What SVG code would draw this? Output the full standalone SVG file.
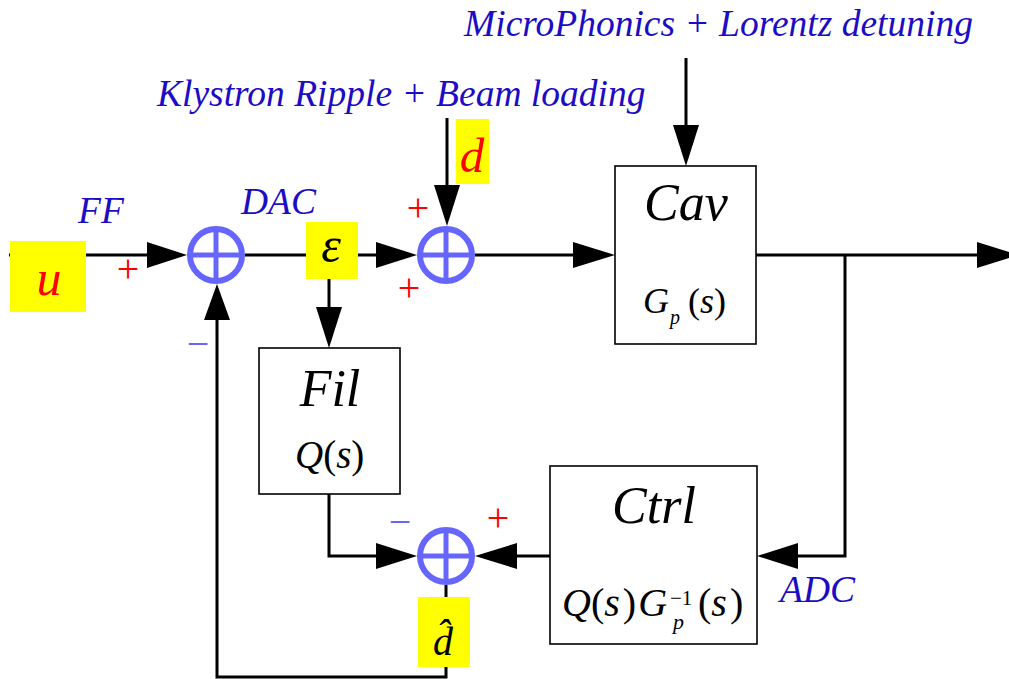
<svg xmlns="http://www.w3.org/2000/svg" width="1009" height="679" viewBox="0 0 1009 679">
<style>
.ln{fill:none;stroke:#000;stroke-width:3;stroke-linejoin:miter}
.ah{fill:#000;stroke:none}
.box{fill:#fff;stroke:#000;stroke-width:1.6}
.hl{fill:#ffff00;stroke:none}
.sumc{fill:#fff;stroke:#6666ff;stroke-width:6}
.sumx{stroke:#6666ff;stroke-width:5}
.lbl{font-family:"Liberation Serif","Times New Roman",serif;font-style:italic;font-size:37.5px;fill:#1c0cc4}
.big{font-family:"Liberation Serif","Times New Roman",serif;font-style:italic;font-size:52px;fill:#000;text-anchor:middle}
.math{font-family:"Liberation Serif","Times New Roman",serif;fill:#000}
.it{font-style:italic}
.sgn{font-family:"Liberation Serif","Times New Roman",serif;font-size:40px;text-anchor:middle}
.red{fill:#ff0000}
.blu{fill:#6666ff}
</style>
<rect width="1009" height="679" fill="#fff"/>

<g id="connectors">
  <line class="ln" x1="9" y1="255" x2="150" y2="255"/>
  <polygon class="ah" points="147,242 187,255 147,268"/>
  <line class="ln" x1="245" y1="255" x2="379" y2="255"/>
  <polygon class="ah" points="376,242 417,255 376,268"/>
  <line class="ln" x1="329" y1="279" x2="329" y2="310"/>
  <polygon class="ah" points="316,307 329,348 342,307"/>
  <line class="ln" x1="475" y1="255" x2="576" y2="255"/>
  <polygon class="ah" points="573,242 615,255 573,268"/>
  <line class="ln" x1="756" y1="255" x2="980" y2="255"/>
  <polygon class="ah" points="977,242 1019,255 977,268"/>
  <polyline class="ln" points="845,255 845,556 795,556"/>
  <polygon class="ah" points="798,543 757,556 798,569"/>
  <line class="ln" x1="686" y1="58" x2="686" y2="128"/>
  <polygon class="ah" points="673,125 686,166 699,125"/>
  <line class="ln" x1="447" y1="118" x2="447" y2="188"/>
  <polygon class="ah" points="434,185 447,226 460,185"/>
  <polyline class="ln" points="329,494 329,556 379,556"/>
  <polygon class="ah" points="376,543 417,556 376,569"/>
  <line class="ln" x1="550" y1="556" x2="514" y2="556"/>
  <polygon class="ah" points="517,543 475,556 517,569"/>
  <polyline class="ln" points="446,585 446,677 217,677 217,317"/>
  <polygon class="ah" points="204,320 217,284 230,320"/>
</g>

<g id="sum1">
  <circle class="sumc" cx="216" cy="255" r="26"/>
  <line class="sumx" x1="188" y1="255" x2="244" y2="255"/>
  <line class="sumx" x1="216" y1="227" x2="216" y2="283"/>
</g>
<g id="sum2">
  <circle class="sumc" cx="446" cy="255" r="26"/>
  <line class="sumx" x1="418" y1="255" x2="474" y2="255"/>
  <line class="sumx" x1="446" y1="227" x2="446" y2="283"/>
</g>
<g id="sum3">
  <circle class="sumc" cx="446" cy="556" r="26"/>
  <line class="sumx" x1="418" y1="556" x2="474" y2="556"/>
  <line class="sumx" x1="446" y1="528" x2="446" y2="584"/>
</g>

<g id="u">
  <rect class="hl" x="10" y="241" width="76" height="71"/>
  <text class="math it red" x="49" y="295" font-size="50" text-anchor="middle">u</text>
</g>
<g id="eps">
  <rect class="hl" x="306" y="222" width="52" height="57"/>
  <text class="math it" x="331" y="262" font-size="50" text-anchor="middle">ε</text>
</g>
<g id="d">
  <rect class="hl" x="456" y="119" width="33" height="65"/>
  <text class="math it red" x="472" y="172" font-size="49" text-anchor="middle">d</text>
</g>
<g id="dhat">
  <rect class="hl" x="418" y="597" width="52" height="70"/>
  <text class="math it" x="443" y="655" font-size="40" text-anchor="middle">d̂</text>
</g>

<g id="cav">
  <rect class="box" x="615" y="166" width="141" height="178"/>
  <text class="big" x="686" y="220">Cav</text>
  <text class="math it" font-size="36" x="643" y="313">G</text>
  <text class="math it" font-size="20" x="670" y="324">p</text>
  <text class="math" font-size="36" x="688" y="313">(<tspan class="it">s</tspan>)</text>
</g>
<g id="fil">
  <rect class="box" x="259" y="348" width="141" height="146"/>
  <text class="big" x="330" y="406">Fil</text>
  <text class="math" font-size="39" x="295" y="468"><tspan class="it">Q</tspan>(<tspan class="it">s</tspan>)</text>
</g>
<g id="ctrl">
  <rect class="box" x="550" y="466" width="207" height="178"/>
  <text class="big" x="654" y="523">Ctrl</text>
  <text class="math" font-size="40" x="562" y="616"><tspan class="it">Q</tspan>(<tspan class="it">s</tspan><tspan dx="3">)</tspan><tspan class="it" dx="2">G</tspan></text>
  <text class="math" font-size="21" x="670" y="605">−1</text>
  <text class="math it" font-size="22" x="673" y="629">p</text>
  <text class="math" font-size="40" x="698" y="616">(<tspan class="it">s</tspan><tspan dx="3">)</tspan></text>
</g>

<g id="labels">
  <text class="lbl" x="464" y="36">MicroPhonics + Lorentz detuning</text>
  <text class="lbl" x="157" y="106">Klystron Ripple + Beam loading</text>
  <text class="lbl" x="78" y="223">FF</text>
  <text class="lbl" x="241" y="214">DAC</text>
  <text class="lbl" x="780" y="602">ADC</text>
</g>

<g id="signs">
  <text class="sgn red" x="128" y="282">+</text>
  <text class="sgn blu" x="198" y="357">−</text>
  <text class="sgn red" x="418" y="221">+</text>
  <text class="sgn red" x="409" y="301">+</text>
  <text class="sgn blu" x="400" y="535">−</text>
  <text class="sgn red" x="498" y="531">+</text>
</g>
</svg>
